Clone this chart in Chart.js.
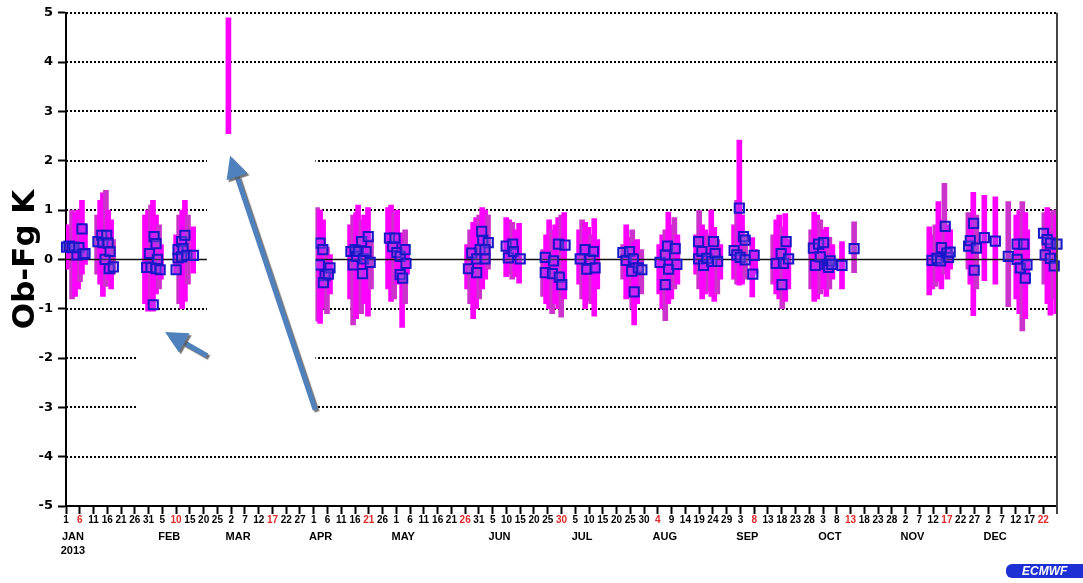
<!DOCTYPE html>
<html><head><meta charset="utf-8">
<script src="https://cdn.jsdelivr.net/npm/chart.js@4/dist/chart.umd.min.js"></script>
<style>html,body{margin:0;padding:0;background:#fff;}#wrap{width:1083px;height:583px;position:relative;}</style>
</head><body><div id="wrap"><canvas id="c" width="1083" height="583"></canvas></div>
<script>
// ---- axis data (day of year 2013, 0 = 1 Jan) ----
const tickDays = [0,5,10,15,20,25,30,35,40,45,50,55,60,65,70,75,80,85,90,95,100,105,110,115,120,125,130,135,140,145,150,155,160,165,170,175,180,185,190,195,200,205,210,215,220,225,230,235,240,245,250,255,260,265,270,275,280,285,290,295,300,305,310,315,320,325,330,335,340,345,350,355];
const tickLabels = ['1','6','11','16','21','26','31','5','10','15','20','25','2','7','12','17','22','27','1','6','11','16','21','26','1','6','11','16','21','26','31','5','10','15','20','25','30','5','10','15','20','25','30','4','9','14','19','24','29','3','8','13','18','23','28','3','8','13','18','23','28','2','7','12','17','22','27','2','7','12','17','22'];
const redTickDays = [5,40,75,110,145,180,215,250,285,320,355];
const monthDays = [0,35,60,90,120,155,185,215,245,275,305,335];
const monthLabels = [['JAN','2013'],'FEB','MAR','APR','MAY','JUN','JUL','AUG','SEP','OCT','NOV','DEC'];
const yTicks = [-5,-4,-3,-2,-1,0,1,2,3,4,5];
const yTitle = 'Ob-Fg K';

// ---- spread bars (min..max of Ob-Fg) ----
const barDay = [0.3,0.9,2.2,3.3,4.4,5.1,5.8,6.9,
 11.3,12.4,13.4,14.5,15.3,16.4,17.1,
 28.7,29.8,30.9,31.6,32.7,33.8,34.5,
 40.0,41.1,42.2,43.2,44.3,46.2,
 59.0,
 91.2,92.3,93.4,94.8,95.9,
 103.2,104.3,105.4,106.1,107.2,108.3,109.7,110.8,
 117.0,118.1,119.2,120.3,122.1,123.2,123.9,
 145.7,146.8,147.9,149.0,150.1,151.2,152.3,153.3,
 159.9,161.0,162.1,163.2,164.6,
 173.3,174.4,175.5,176.6,177.7,178.8,179.9,181.0,
 186.4,187.5,188.6,189.7,190.8,191.9,193.0,
 202.4,203.5,204.6,205.7,206.4,207.5,209.0,
 215.5,216.6,217.7,218.8,219.9,221.0,222.1,
 228.9,230.0,231.1,232.2,233.4,234.4,235.5,236.6,237.7,
 242.7,243.8,244.6,245.6,246.7,249.3,250.4,
 256.9,258.0,259.1,260.2,261.3,262.4,
 270.7,271.8,272.9,274.0,275.1,276.2,277.3,278.4,281.9,
 286.3,
 313.6,314.7,315.8,316.9,318.0,319.1,320.2,321.2,
 327.8,328.5,329.6,330.7,
 333.6,337.6,342.3,
 345.2,346.3,347.4,348.5,349.2,
 355.4,356.5,357.6,358.7,359.7];
const barLow = [-0.2,-0.15,-0.8,-0.75,-0.6,-0.45,-0.3,-0.1,
 -0.3,-0.5,-0.75,-0.55,-0.4,-0.6,-0.3,
 -0.9,-1.05,-0.95,-1.05,-0.7,-0.6,-0.4,
 -0.3,-0.9,-1.0,-0.85,-0.5,-0.28,
 2.55,
 -1.25,-1.3,-1.0,-1.1,-0.7,
 -0.8,-1.33,-1.2,-1.0,-1.1,-0.9,-1.15,-0.6,
 -0.6,-0.85,-0.8,-0.5,-1.38,-0.9,-0.3,
 -0.6,-0.9,-1.2,-1.0,-0.8,-0.6,-0.4,-0.2,
 -0.35,-0.3,-0.4,-0.35,-0.48,
 -0.75,-0.9,-1.0,-1.1,-0.9,-1.0,-1.17,-0.8,
 -0.5,-0.8,-1.0,-0.85,-0.9,-1.15,-0.6,
 -0.4,-0.8,-0.7,-1.0,-1.33,-0.9,-0.7,
 -0.7,-1.0,-1.24,-0.9,-0.8,-0.6,-0.5,
 -0.3,-0.6,-0.8,-0.7,-0.65,-0.75,-0.85,-0.7,-0.4,
 -0.4,-0.5,-0.52,-0.5,-0.4,-0.76,-0.3,
 -0.5,-0.7,-0.8,-1.0,-0.85,-0.6,
 -0.6,-0.85,-0.8,-0.7,-0.6,-0.75,-0.6,-0.4,-0.6,
 -0.27,
 -0.72,-0.6,-0.55,-0.45,-0.6,-0.3,-0.4,-0.2,
 -0.2,-0.5,-1.14,-0.6,
 -0.43,-0.5,-0.96,
 -0.8,-1.1,-1.45,-1.2,-0.5,
 -0.5,-0.9,-1.13,-0.8,-1.1];
const barHigh = [0.7,0.6,1.0,0.95,1.0,0.8,1.2,0.7,
 0.9,1.2,1.35,1.4,1.0,0.8,0.4,
 0.9,1.0,1.1,1.2,0.9,0.7,0.3,
 0.5,0.9,1.0,1.2,0.9,0.66,
 4.9,
 1.05,1.0,0.8,0.25,0.1,
 0.7,0.9,0.95,1.1,0.8,0.9,1.05,0.4,
 1.05,1.1,0.95,1.0,0.54,0.6,0.3,
 0.3,0.6,0.75,0.85,0.9,1.05,1.0,0.9,
 0.85,0.8,0.75,0.6,0.73,
 0.2,0.5,0.8,0.6,0.7,0.85,0.9,0.95,
 0.6,0.8,0.75,0.65,0.5,0.83,0.4,
 0.3,0.7,0.45,0.6,0.35,0.4,0.2,
 0.3,0.5,0.6,0.96,0.7,0.85,0.5,
 0.5,0.99,0.7,0.6,0.5,1.0,0.65,0.4,0.3,
 0.7,1.2,2.42,0.9,0.5,0.44,0.2,
 0.5,0.8,0.9,0.65,0.93,0.4,
 0.6,0.96,0.9,0.8,0.6,0.65,0.45,0.3,0.36,
 0.76,
 0.66,0.5,0.7,1.17,0.8,1.54,0.7,0.6,
 0.95,0.8,1.36,0.9,
 1.3,1.27,1.17,
 0.9,1.0,1.17,0.95,0.6,
 0.95,1.05,0.95,1.0,0.9];

// ---- mean Ob-Fg (squares) ----
const meanDay = [0.2,1.1,2.2,2.9,4.0,4.7,5.8,6.2,6.9,
 11.6,13.0,13.4,14.2,14.8,15.3,16.0,15.7,17.2,
 29.3,30.3,30.9,31.7,32.0,32.7,32.7,33.2,34.2,
 40.0,40.7,40.7,42.0,42.5,42.0,43.2,43.9,46.3,
 92.3,93.3,92.0,94.1,93.5,95.9,95.3,
 103.5,104.3,105.0,105.6,106.2,107.4,107.7,108.0,109.0,109.8,110.5,
 117.5,118.7,119.5,120.2,121.4,121.4,122.3,123.2,123.5,
 146.2,147.4,149.2,149.2,150.4,151.4,151.0,153.4,152.2,152.2,
 159.9,160.7,162.3,162.5,165.0,
 174.1,174.1,176.7,177.1,178.9,179.2,180.1,181.3,
 186.8,188.6,189.2,190.4,191.6,192.2,
 202.3,203.5,204.7,205.5,206.1,206.4,207.9,209.2,
 215.8,217.7,217.7,218.5,218.9,221.3,221.9,
 229.8,229.8,231.0,231.6,232.8,234.6,235.2,235.8,236.7,
 242.7,243.7,244.6,244.9,246.1,246.7,246.7,249.5,250.0,
 258.0,259.8,260.1,260.6,261.6,262.5,
 271.5,272.2,273.4,274.0,275.2,276.4,277.0,277.6,278.2,281.9,
 286.3,
 314.6,316.4,317.7,318.0,319.4,320.0,320.6,321.2,
 327.9,328.5,329.7,329.9,330.7,
 333.6,337.6,342.3,
 345.5,345.5,346.7,347.9,348.5,349.1,
 355.1,355.7,356.4,357.6,357.6,359.0,360.0];
const meanVal = [0.25,0.27,0.24,0.25,0.09,0.24,0.62,0.1,0.12,
 0.36,0.49,0.34,0.0,0.49,0.33,0.16,-0.19,-0.15,
 -0.16,0.12,-0.16,-0.92,0.46,0.32,-0.19,0.0,-0.21,
 -0.21,0.03,0.2,0.36,0.22,0.05,0.49,0.08,0.08,
 0.33,0.2,-0.11,-0.33,-0.47,-0.17,-0.3,
 0.16,-0.11,0.2,0.06,0.16,0.36,-0.29,0.01,0.16,0.46,-0.06,
 0.43,0.26,0.43,0.14,0.06,-0.31,-0.38,0.2,-0.08,
 -0.19,0.13,-0.27,0.01,0.2,0.39,0.57,0.34,0.01,0.2,
 0.27,0.03,0.31,0.16,0.01,
 0.04,-0.27,-0.29,-0.03,0.31,-0.36,-0.51,0.29,
 0.01,0.2,-0.2,0.0,0.16,-0.17,
 0.14,-0.02,0.16,-0.24,0.01,-0.66,-0.17,-0.21,
 -0.06,0.09,-0.51,0.27,-0.2,0.22,-0.1,
 0.36,0.01,0.16,-0.12,0.02,-0.04,0.36,0.12,-0.04,
 0.18,0.09,1.04,0.04,0.46,0.39,-0.01,-0.3,0.08,
 -0.08,0.12,-0.51,-0.08,0.36,0.01,
 0.23,-0.12,0.31,0.05,0.34,-0.1,-0.16,-0.03,-0.1,-0.12,
 0.22,
 -0.02,0.02,-0.03,0.24,0.67,0.13,0.04,0.15,
 0.27,0.38,0.73,-0.22,0.23,
 0.44,0.37,0.06,
 0.31,0.0,-0.17,0.31,-0.38,-0.11,
 0.53,0.09,0.4,0.02,0.33,-0.13,0.31];

const barData = barDay.map((d, i) => ({x: d, y: [barLow[i], barHigh[i]]}));
const meanData = meanDay.map((d, i) => ({x: d, y: meanVal[i]}));

const overlay = {
  id: 'overlay',
  beforeDatasetsDraw(chart) {
    const {ctx, chartArea: a, scales: {y}} = chart;
    ctx.save();
    ctx.strokeStyle = '#000'; ctx.lineWidth = 2; ctx.setLineDash([2, 2]);
    yTicks.forEach(v => {
      if (v === 0 || v === -5) return;
      const py = Math.round(y.getPixelForValue(v));
      ctx.beginPath(); ctx.moveTo(a.left, py); ctx.lineTo(a.right, py); ctx.stroke();
    });
    ctx.restore();
  },
  afterDatasetDraw(chart, args) {
    if (args.index !== 0) return;
    const {ctx, chartArea: a, scales: {y}} = chart;
    const py = Math.round(y.getPixelForValue(0)) + 0.5;
    ctx.save(); ctx.strokeStyle = '#111'; ctx.lineWidth = 1.5;
    ctx.beginPath(); ctx.moveTo(a.left, py); ctx.lineTo(a.right, py); ctx.stroke();
    ctx.restore();
  },
  afterDraw(chart) {
    const {ctx, chartArea: a, scales: {x, y}} = chart;
    ctx.save();
    // right frame line
    ctx.strokeStyle = '#444'; ctx.lineWidth = 2;
    ctx.beginPath(); ctx.moveTo(a.right, a.top); ctx.lineTo(a.right, a.bottom + 8); ctx.stroke();
    // white cover boxes
    ctx.fillStyle = '#fff';
    const bx = (d1, d2, v1, v2) => {
      const x1 = x.getPixelForValue(d1), x2 = x.getPixelForValue(d2);
      const y1 = y.getPixelForValue(v1), y2 = y.getPixelForValue(v2);
      ctx.fillRect(x1, y1, x2 - x1, y2 - y1);
    };
    bx(51.2, 90.6, 2.54, -1.18);
    bx(25.8, 90.6, -1.18, -3.15);
    // arrows
    const arrow = (d1, v1, d2, v2) => {
      const x1 = x.getPixelForValue(d1), y1 = y.getPixelForValue(v1);
      const x2 = x.getPixelForValue(d2), y2 = y.getPixelForValue(v2);
      const ang = Math.atan2(y2 - y1, x2 - x1);
      const L = 22, W = 11;
      const bxp = x2 - L * Math.cos(ang), byp = y2 - L * Math.sin(ang);
      ctx.beginPath(); ctx.moveTo(x1, y1); ctx.lineTo(bxp, byp);
      ctx.stroke();
      ctx.beginPath();
      ctx.moveTo(x2, y2);
      ctx.lineTo(bxp + W * Math.sin(ang), byp - W * Math.cos(ang));
      ctx.lineTo(bxp - W * Math.sin(ang), byp + W * Math.cos(ang));
      ctx.closePath(); ctx.fill();
    };
    ctx.shadowColor = 'rgba(90,90,90,0.85)'; ctx.shadowOffsetX = 2; ctx.shadowOffsetY = 2; ctx.shadowBlur = 1;
    ctx.strokeStyle = '#4f81bd'; ctx.fillStyle = '#4f81bd'; ctx.lineWidth = 5; ctx.lineCap = 'butt';
    arrow(90.5, -3.05, 59.6, 2.1);
    arrow(51.2, -1.95, 36.0, -1.47);
    ctx.shadowColor = 'transparent';
    // logo
    ctx.fillStyle = '#1e2fd6';
    ctx.beginPath();
    if (ctx.roundRect) ctx.roundRect(1006, 564, 90, 14, 6); else ctx.rect(1006, 564, 90, 14);
    ctx.fill();
    ctx.fillStyle = '#fff'; ctx.font = 'italic bold 12px "Liberation Sans"'; ctx.textBaseline = 'middle';
    ctx.fillText('ECMWF', 1022, 571.5);
    ctx.restore();
  }
};

new Chart(document.getElementById('c'), {
  type: 'bar',
  data: {
    datasets: [
      {
        type: 'bar', label: 'spread', data: barData, xAxisID: 'x', yAxisID: 'y', order: 2,
        barThickness: 5, borderWidth: 0,
        backgroundColor: (c) => (c.dataIndex % 3 === 2 ? '#cc33cc' : '#ff00ff')
      },
      {
        type: 'scatter', label: 'mean', data: meanData, xAxisID: 'x', yAxisID: 'y', order: 1,
        pointStyle: 'rect', pointRadius: 6.5, borderWidth: 2, borderColor: '#1717c8',
        backgroundColor: 'rgba(140,80,230,0.4)', clip: false
      }
    ]
  },
  plugins: [overlay],
  options: {
    responsive: false, animation: false,
    layout: {padding: {left: 0, right: 26, top: 12, bottom: 0}},
    plugins: {legend: {display: false}, tooltip: {enabled: false}},
    scales: {
      x: {
        type: 'linear', position: 'bottom', min: 0, max: 360, offset: false, weight: 0,
        afterBuildTicks: (s) => { s.ticks = tickDays.map(v => ({value: v})); },
        afterFit: (s) => { s.height = 20; },
        grid: {display: true, offset: false, drawOnChartArea: false, drawTicks: true, tickLength: 8, tickWidth: 2, tickColor: '#000'},
        border: {display: true, color: '#000', width: 2},
        ticks: {
          autoSkip: false, maxRotation: 0, minRotation: 0, padding: 0,
          font: {family: '"Liberation Sans", Arial, sans-serif', size: 10, weight: 'bold'},
          color: (c) => (c.tick && redTickDays.includes(c.tick.value) ? '#e02828' : '#000'),
          callback: (v, i) => tickLabels[i]
        }
      },
      xm: {
        type: 'linear', position: 'bottom', min: 0, max: 360, offset: false, weight: 1,
        afterBuildTicks: (s) => { s.ticks = monthDays.map(v => ({value: v + 2.5})); },
        afterFit: (s) => { s.height = 57; },
        grid: {display: false, drawTicks: false, offset: false},
        border: {display: false},
        ticks: {
          autoSkip: false, maxRotation: 0, minRotation: 0, padding: 3, color: '#000',
          font: {family: '"Liberation Sans", Arial, sans-serif', size: 11, weight: 'bold', lineHeight: 1.36},
          callback: (v, i) => monthLabels[i]
        }
      },
      y: {
        type: 'linear', position: 'left', min: -5, max: 5, beginAtZero: false,
        afterBuildTicks: (s) => { s.ticks = yTicks.map(v => ({value: v})); },
        afterFit: (s) => { s.width = 66; },
        grid: {display: true, drawOnChartArea: false, drawTicks: true, tickLength: 8, tickWidth: 2, tickColor: '#000'},
        border: {display: true, color: '#000', width: 2},
        ticks: {
          padding: 5, color: '#000',
          font: {family: '"DejaVu Sans", sans-serif', size: 13, weight: 'bold'},
          callback: (v) => String(v)
        },
        title: {
          display: true, text: yTitle, color: '#000', padding: {top: 7, bottom: 0},
          font: {family: '"DejaVu Sans", sans-serif', size: 31, weight: 'bold', lineHeight: 1.2}
        }
      }
    }
  }
});
</script>
</body></html>
